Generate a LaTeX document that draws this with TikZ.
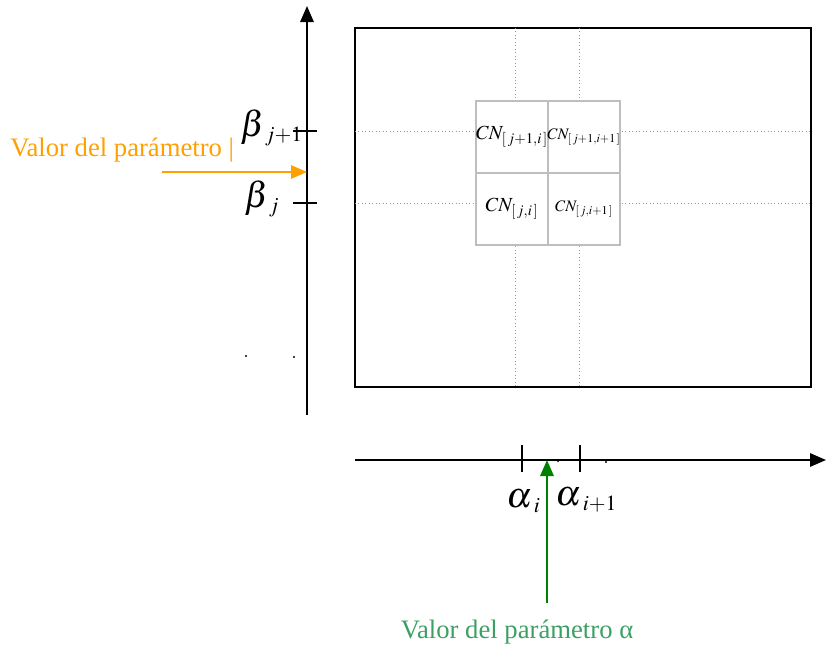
\documentclass[tikz,border=0pt]{standalone}
\usepackage{mathptmx}
\usepackage{fontspec}
\setmainfont{Liberation Serif}
\usepackage{tikz}
\usetikzlibrary{arrows.meta,positioning,calc}
\definecolor{axisblack}{RGB}{0,0,0}
\definecolor{cellgray}{RGB}{190,190,190}
\definecolor{gridgray}{RGB}{150,150,150}
\definecolor{betaorange}{RGB}{255,160,0}
\definecolor{alphagreen}{RGB}{0,128,0}
\definecolor{textgreen}{RGB}{60,160,100}
\newcommand{\sub}[1]{{\scriptscriptstyle\mkern4mu #1}}
\tikzset{
  axarr/.style={-{Triangle[length=12pt, width=10pt]}, axisblack, line width=1.5pt},
  tick/.style={axisblack, line width=1.2pt},
  frame/.style={draw=axisblack, line width=1.5pt},
  cellbox/.style={draw=cellgray, line width=1.5pt, minimum width=54pt, minimum height=54pt, inner sep=0pt},
  gridline/.style={gridgray, dotted, line width=0.6pt},
  parlab/.style={font=\fontsize{20}{22}\selectfont},
  betalab/.style={font=\fontsize{27}{30}\selectfont, inner sep=0pt, anchor=base west},
  cnlab/.style={font=\fontsize{15}{18}\selectfont, inner sep=0pt},
  cnsmall/.style={font=\fontsize{12}{14}\selectfont, inner sep=0pt},
  pdot/.style={circle, fill=black, inner sep=0pt, minimum size=1.6pt},
}

\begin{document}
\begin{tikzpicture}[x=0.75pt, y=-0.75pt]
  \useasboundingbox (0,0) rectangle (826,646);

  % axes
  \coordinate (ybot) at (307,415);
  \coordinate (ytop) at (307,6);
  \coordinate (xleft) at (355,460);
  \coordinate (xright) at (826,460);
  \draw[axarr] (ybot) -- (ytop);
  \draw[axarr] (xleft) -- (xright);

  % frame and grid lines
  \draw[frame] (355,28) rectangle (811,387);
  \draw[gridline] (515,28) -- (515,387);
  \draw[gridline] (579,28) -- (579,387);
  \draw[gridline] (355,131) -- (811,131);
  \draw[gridline] (355,203) -- (811,203);

  % cells
  \node[cellbox, fill=white, anchor=north west] (c11) at (475,100) {};
  \node[cellbox, fill=white, anchor=north west] (c12) at (547,100) {};
  \node[cellbox, fill=white, anchor=north west] (c21) at (475,172) {};
  \node[cellbox, fill=white, anchor=north west] (c22) at (547,172) {};
  \node[cnlab] at (c11) {$CN_{[\,j+1,i\,]}$};
  \node[cnsmall] at (c12) {$CN_{[\,j+1,i+1\,]}$};
  \node[cnlab] at (c21) {$CN_{[\,j,i\,]}$};
  \node[cnsmall] at (c22) {$CN_{[\,j,i+1\,]}$};

  % ticks on beta axis
  \coordinate (tb1a) at (293,131);
  \coordinate (tb1b) at (317,131);
  \coordinate (tb0a) at (293,203);
  \coordinate (tb0b) at (317,203);
  \draw[tick] (tb1a) -- (tb1b);
  \draw[tick] (tb0a) -- (tb0b);
  \node[betalab] (b1) at (240,136) {$\beta_{\sub{j+1}}$};
  \node[betalab] (b0) at (244,207) {$\beta_{\sub{j}}$};

  % ticks on alpha axis
  \coordinate (ta0a) at (522,445);
  \coordinate (ta0b) at (522,472);
  \coordinate (ta1a) at (580,445);
  \coordinate (ta1b) at (580,472);
  \draw[tick] (ta0a) -- (ta0b);
  \draw[tick] (ta1a) -- (ta1b);
  \node[betalab] (a0) at (506,507) {$\alpha_{\sub{i}}$};
  \node[betalab] (a1) at (555,505) {$\alpha_{\sub{i+1}}$};

  % stray dots
  \node[pdot] (d1) at (246,356) {};
  \node[pdot] (d2) at (294,357) {};
  \node[pdot] (d3) at (558,461) {};
  \node[pdot] (d4) at (606,462) {};

  % parameter values
  \node[parlab, text=betaorange, anchor=west, inner sep=0pt] (bval) at (10,150) {Valor del parámetro |};
  \coordinate (bstart) at (162,172);
  \coordinate (bend) at (307,172);
  \draw[-{Triangle[length=12pt, width=10pt]}, betaorange, line width=1.5pt] (bstart) -- (bend);

  \node[parlab, text=textgreen, inner sep=0pt] (aval) at (517,632) {Valor del parámetro α};
  \coordinate (astart) at (547,603);
  \coordinate (aend) at (547,460);
  \draw[-{Triangle[length=12pt, width=10pt]}, alphagreen, line width=1.5pt] (astart) -- (aend);
\end{tikzpicture}
\end{document}
